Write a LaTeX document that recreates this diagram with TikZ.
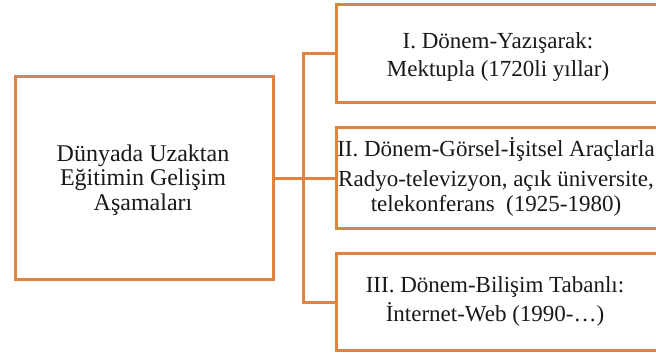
\documentclass[tikz,border=0pt]{standalone}
\usepackage{fontspec}
\setmainfont{Liberation Serif}
\definecolor{orng}{RGB}{226,130,62}
\begin{document}
\begin{tikzpicture}[x=1pt,y=1pt,
  box/.style={draw=orng,line width=3pt,fill=white,inner sep=0pt},
  conn/.style={draw=orng,line width=3pt},
  txt/.style={align=center,inner sep=0pt,font=\fontsize{23}{25}\selectfont,text=black!90}]
\clip (0,0) rectangle (656,-356);
\fill[white] (0,0) rectangle (656,-356);
% junction
\coordinate (j) at (303,-176.5);
% left box
\node[box,minimum width=258,minimum height=203,anchor=north west] (L) at (14,-75) {};
% right boxes
\node[box,minimum width=360,minimum height=98,anchor=north west] (b1) at (335,-3) {};
\node[box,minimum width=360,minimum height=101,anchor=north west] (b2) at (335,-126) {};
\node[box,minimum width=360,minimum height=97,anchor=north west] (b3) at (335,-252) {};
% connectors
\draw[conn] (b1.west) -- (b1.west -| j) -- (b3.west -| j) -- (b3.west);
\draw[conn] (L.east) -- (b2.west);
% texts
\node[txt,font=\fontsize{24}{24.5}\selectfont] (tL) at (143,-180) {Dünyada Uzaktan\\Eğitimin Gelişim\\Aşamaları};
\node[txt] (t1) at (498,-57) {I. Dönem-Yazışarak:\\[3pt]Mektupla (1720li yıllar)};
\node[txt] (t2) at (496,-177) {II. Dönem-Görsel-İşitsel Araçlarla\\[5pt]Radyo-televizyon, açık üniversite,\\telekonferans\ \ (1925-1980)};
\node[txt] (t3) at (495,-301) {III. Dönem-Bilişim Tabanlı:\\[4pt]İnternet-Web (1990-…)};
\end{tikzpicture}
\end{document}
